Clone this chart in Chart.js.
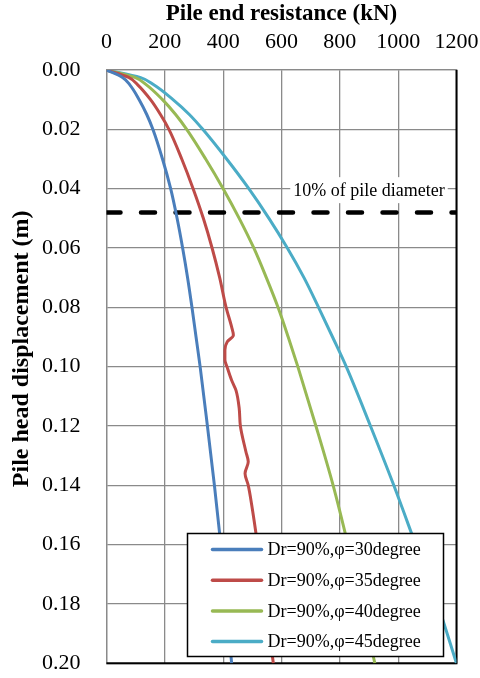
<!DOCTYPE html>
<html>
<head>
<meta charset="utf-8">
<script src="https://cdn.jsdelivr.net/npm/chart.js@4/dist/chart.umd.min.js"></script>
<style>
  html, body { margin: 0; padding: 0; background: #fff; }
</style>
</head>
<body>
<canvas id="c" width="480" height="678"></canvas>
<script>
// Pile head displacement (m) sampled along each load-settlement curve
const dispGrid = [0, 0.0025, 0.005, 0.01, 0.015, 0.02, 0.03, 0.04, 0.05, 0.06, 0.07,
                  0.08, 0.09, 0.10, 0.12, 0.14, 0.16, 0.18, 0.20];
const dispPhi35 = [0, 0.0025, 0.005, 0.01, 0.015, 0.02, 0.03, 0.04, 0.05, 0.06, 0.07,
                   0.08, 0.0866, 0.0894, 0.0916, 0.0944, 0.0978, 0.10, 0.1046, 0.108,
                   0.1141, 0.12, 0.1287, 0.1321, 0.136, 0.14, 0.1467, 0.16, 0.18, 0.20];

// Pile end resistance (kN)
const resPhi30 = [0, 55, 80, 112, 138, 159, 192, 220, 242, 261, 278, 293, 307, 321, 346, 370, 392, 411, 429];
const resPhi35 = [0, 76, 107, 151, 185, 214, 258, 297, 332, 362, 388, 410, 429, 435, 414, 406, 406,
                  413, 429, 444, 455, 459, 478, 486, 475, 486, 498, 518, 545, 572];
const resPhi40 = [0, 97, 137, 192, 237, 275, 340, 400, 455, 505, 548, 588, 623, 656, 718, 777, 828, 875, 920];
const resPhi45 = [0, 115, 162, 228, 284, 330, 412, 488, 557, 620, 677, 727, 775, 822, 905, 985, 1060, 1135, 1200];

const seriesLabels = ['Dr=90%,\u03c6=30degree', 'Dr=90%,\u03c6=35degree',
                      'Dr=90%,\u03c6=40degree', 'Dr=90%,\u03c6=45degree'];

// Reference level: 10% of the pile diameter
const markerDepth = 0.048;
const markerLabel = '10% of pile diameter';

// Axis ticks
const resistanceTicks = [0, 200, 400, 600, 800, 1000, 1200];
const displacementTicks = [0, 0.02, 0.04, 0.06, 0.08, 0.10, 0.12, 0.14, 0.16, 0.18, 0.20];

const xTitle = 'Pile end resistance (kN)';
const yTitle = 'Pile head displacement (m)';

const SERIF = "'Liberation Serif', 'Times New Roman', serif";
const colors = ['#4a7ebb', '#be4b48', '#98b954', '#4bacc6'];

const toPoints = (ys, xs) => ys.map((y, i) => ({ x: xs[i], y }));

const curveData = [
  toPoints(dispGrid, resPhi30),
  toPoints(dispPhi35, resPhi35),
  toPoints(dispGrid, resPhi40),
  toPoints(dispGrid, resPhi45)
];

const datasets = curveData.map((pts, i) => ({
  label: seriesLabels[i],
  data: pts,
  borderColor: colors[i],
  borderWidth: 3,
  pointRadius: 0,
  cubicInterpolationMode: 'monotone',
  fill: false
}));

datasets.push({
  label: markerLabel,
  data: [{ x: resistanceTicks[0], y: markerDepth },
         { x: resistanceTicks[resistanceTicks.length - 1], y: markerDepth }],
  borderColor: '#000',
  borderWidth: 4.5,
  borderDash: [14, 20.5],
  borderCapStyle: 'round',
  pointRadius: 0,
  fill: false
});

// White-backed caption for the reference level, black right/bottom frame,
// and the rotated displacement axis title
const annotations = {
  id: 'annotations',
  beforeDatasetsDraw(chart) {
    const { ctx, chartArea: a, scales: { x, y } } = chart;
    ctx.save();
    const cx = x.getPixelForValue(900);
    const cy = y.getPixelForValue(0.0405);
    ctx.font = '18px ' + SERIF;
    const w = ctx.measureText(markerLabel).width;
    ctx.fillStyle = '#fff';
    ctx.fillRect(cx - w / 2 - 3, cy - 13, w + 6, 26);
    ctx.fillStyle = '#000';
    ctx.textAlign = 'center';
    ctx.textBaseline = 'middle';
    ctx.fillText(markerLabel, cx, cy + 1);

    ctx.strokeStyle = '#000';
    ctx.lineWidth = 2;
    ctx.beginPath();
    ctx.moveTo(a.right, a.top);
    ctx.lineTo(a.right, a.bottom);
    ctx.lineTo(a.left, a.bottom);
    ctx.stroke();

    ctx.translate(22, y.getPixelForValue(0.094));
    ctx.rotate(-Math.PI / 2);
    ctx.font = 'bold 24px ' + SERIF;
    ctx.fillText(yTitle, 0, 0);
    ctx.restore();
  }
};

// Boxed legend in the lower right of the plot
const boxLegend = {
  id: 'boxLegend',
  afterDatasetsDraw(chart) {
    const { ctx } = chart;
    const bx = 187.5, by = 533.5, bw = 256, bh = 123;
    ctx.save();
    ctx.fillStyle = '#fff';
    ctx.fillRect(bx, by, bw, bh);
    ctx.strokeStyle = '#000';
    ctx.lineWidth = 1.5;
    ctx.strokeRect(bx, by, bw, bh);
    ctx.font = '18px ' + SERIF;
    ctx.textBaseline = 'middle';
    ctx.textAlign = 'left';
    for (let i = 0; i < 4; i++) {
      const ds = chart.data.datasets[i];
      const ry = by + 16 + i * 30.7;
      ctx.strokeStyle = ds.borderColor;
      ctx.lineWidth = 3.5;
      ctx.lineCap = 'round';
      ctx.beginPath();
      ctx.moveTo(bx + 25, ry);
      ctx.lineTo(bx + 74, ry);
      ctx.stroke();
      ctx.fillStyle = '#000';
      ctx.fillText(ds.label, bx + 80, ry + 1);
    }
    ctx.restore();
  }
};

const gridStyle = { color: '#8a8a8a', lineWidth: 1.3, drawTicks: false };

new Chart(document.getElementById('c'), {
  type: 'line',
  data: { datasets },
  options: {
    responsive: false,
    animation: false,
    devicePixelRatio: 1,
    indexAxis: 'y',
    layout: { padding: { left: 0, top: 0, right: 23.5, bottom: 14.7 } },
    plugins: { legend: { display: false }, tooltip: { enabled: false } },
    scales: {
      x: {
        type: 'linear',
        position: 'top',
        min: 0,
        max: 1200,
        afterBuildTicks: s => { s.ticks = resistanceTicks.map(v => ({ value: v })); },
        afterFit: s => { s.height = 70; s.paddingLeft = 0; s.paddingRight = 0; },
        ticks: {
          autoSkip: false, maxRotation: 0, padding: 15, color: '#000',
          font: { family: SERIF, size: 22 },
          callback: v => String(v)
        },
        grid: gridStyle,
        border: { color: '#8a8a8a', width: 1.3 },
        title: {
          display: true, text: xTitle, color: '#000',
          font: { family: SERIF, size: 23, weight: 'bold' },
          padding: { top: 0, bottom: 0 }
        }
      },
      y: {
        type: 'linear',
        position: 'left',
        reverse: true,
        min: 0,
        max: 0.2,
        afterBuildTicks: s => { s.ticks = displacementTicks.map(v => ({ value: v })); },
        afterFit: s => { s.width = 106.5; s.paddingTop = 0; s.paddingBottom = 0; },
        ticks: {
          autoSkip: false, padding: 26, color: '#000',
          font: { family: SERIF, size: 22 },
          callback: v => Number(v).toFixed(2)
        },
        grid: gridStyle,
        border: { color: '#8a8a8a', width: 1.3 },
        title: { display: false }
      }
    }
  },
  plugins: [annotations, boxLegend]
});
</script>
</body>
</html>
